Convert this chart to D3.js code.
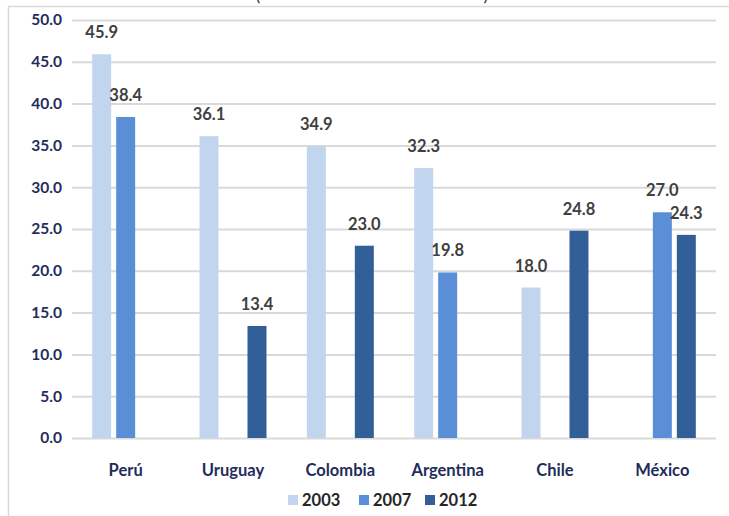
<!DOCTYPE html>
<html>
<head>
<meta charset="utf-8">
<script src="https://cdn.jsdelivr.net/npm/d3@7/dist/d3.min.js"></script>
<style>
  html, body { margin: 0; padding: 0; background: #ffffff; }
  svg { display: block; }
</style>
</head>
<body>
<svg id="chart" width="729" height="516"></svg>
<script>
// Countries along the category axis
const categories = ["Perú", "Uruguay", "Colombia", "Argentina", "Chile", "México"];
// Survey years shown as series
const years = ["2003", "2007", "2012"];
// Values per year, aligned with categories (null = no bar)
const values2003 = [45.9, 36.1, 34.9, 32.3, 18.0, null];
const values2007 = [38.4, null, null, 19.8, null, 27.0];
const values2012 = [null, 13.4, 23.0, null, 24.8, 24.3];
// Value axis ticks
const yTicks = [0, 5, 10, 15, 20, 25, 30, 35, 40, 45, 50];

const seriesValues = { "2003": values2003, "2007": values2007, "2012": values2012 };
const colors = { "2003": "#c2d5ee", "2007": "#5a8fd8", "2012": "#335f98" };

const FONT = "Lato, 'Open Sans', sans-serif";
const svg = d3.select("#chart");

// Outer frame
svg.append("rect")
  .attr("x", 8.5).attr("y", 6.5)
  .attr("width", 740).attr("height", 540)
  .attr("fill", "none").attr("stroke", "#d9d9d9").attr("stroke-width", 1.5);

// Title row (mostly above the visible area)
svg.append("text").attr("x", 258).attr("y", 1)
  .attr("font-family", FONT).attr("font-size", 18).attr("fill", "#333")
  .attr("text-anchor", "middle").text("(");
svg.append("text").attr("x", 486).attr("y", 1)
  .attr("font-family", FONT).attr("font-size", 18).attr("fill", "#333")
  .attr("text-anchor", "middle").text(")");

const plot = { left: 72, right: 716, top: 20, bottom: 438 };

const y = d3.scaleLinear().domain([0, 50]).range([plot.bottom, plot.top]);
const x0 = d3.scaleBand().domain(categories)
  .range([plot.left, plot.right]).paddingInner(0.376).paddingOuter(0.188);
const x1 = d3.scaleBand().domain(years)
  .range([0, x0.bandwidth()]).paddingInner(0.2083).paddingOuter(0);

// Gridlines and value axis labels
const yAxis = d3.axisLeft(y).tickValues(yTicks)
  .tickSize(-(plot.right - plot.left)).tickPadding(10)
  .tickFormat(d3.format(".1f"));
const gy = svg.append("g").attr("transform", `translate(${plot.left},0)`).call(yAxis);
gy.select(".domain").remove();
gy.selectAll(".tick line").attr("stroke", "#d9d9d9").attr("stroke-width", 2);
gy.selectAll(".tick text")
  .attr("font-family", FONT).attr("font-size", 15.5).attr("font-weight", 700)
  .attr("fill", "#1f2d5c");

// Bars
const groups = svg.append("g").selectAll("g")
  .data(categories).join("g")
  .attr("transform", d => `translate(${x0(d)},0)`);

const cells = groups.selectAll("g.cell")
  .data((c, i) => years.map(yr => ({ year: yr, value: seriesValues[yr][i] }))
    .filter(d => d.value !== null))
  .join("g").attr("class", "cell");

cells.append("rect")
  .attr("x", d => x1(d.year))
  .attr("y", d => y(d.value))
  .attr("width", x1.bandwidth())
  .attr("height", d => y(0) - y(d.value))
  .attr("fill", d => colors[d.year]);

cells.append("text")
  .attr("x", d => x1(d.year) + x1.bandwidth() / 2)
  .attr("y", d => y(d.value) - 16)
  .attr("text-anchor", "middle")
  .attr("font-family", FONT).attr("font-size", 16.5).attr("font-weight", 700)
  .attr("fill", "#404040")
  .text(d => d3.format(".1f")(d.value));

// Category labels
const xAxis = d3.axisBottom(x0).tickSize(0).tickPadding(26);
const gx = svg.append("g").attr("transform", `translate(0,${plot.bottom})`).call(xAxis);
gx.select(".domain").remove();
gx.selectAll(".tick text")
  .attr("font-family", FONT).attr("font-size", 16.5).attr("font-weight", 700)
  .attr("fill", "#1f2d5c");

// Legend
const legend = svg.append("g");
const legendX = [288, 359, 425];
years.forEach((yr, i) => {
  const g = legend.append("g").attr("transform", `translate(${legendX[i]},495)`);
  g.append("rect").attr("width", 10).attr("height", 10).attr("fill", colors[yr]);
  g.append("text").attr("x", 14).attr("y", 11)
    .attr("font-family", FONT).attr("font-size", 16.5).attr("font-weight", 700)
    .attr("fill", "#262626").text(yr);
});
</script>
</body>
</html>
